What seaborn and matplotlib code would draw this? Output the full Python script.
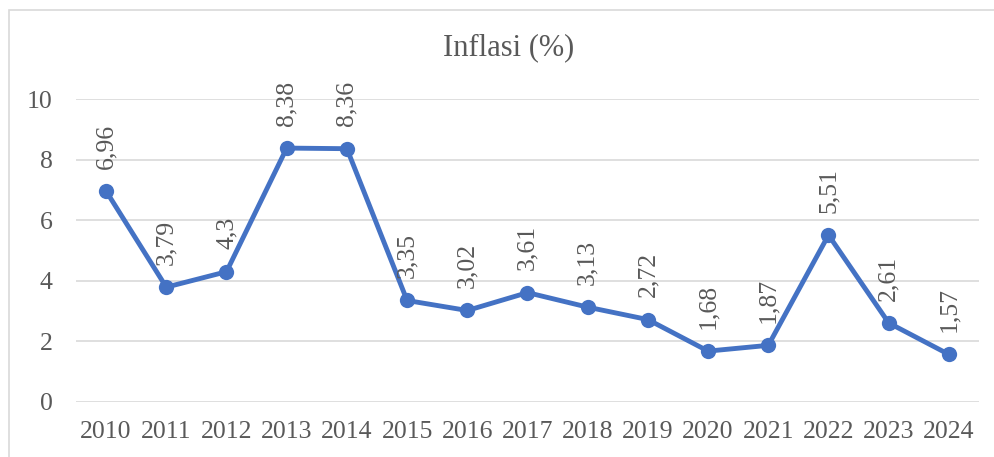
import matplotlib
matplotlib.use("Agg")
import matplotlib.pyplot as plt
import seaborn as sns
import pandas as pd
from matplotlib.patches import Rectangle

years = ["2010", "2011", "2012", "2013", "2014", "2015", "2016", "2017",
         "2018", "2019", "2020", "2021", "2022", "2023", "2024"]
inflasi = [6.96, 3.79, 4.3, 8.38, 8.36, 3.35, 3.02, 3.61, 3.13, 2.72,
           1.68, 1.87, 5.51, 2.61, 1.57]
labels = ["6,96", "3,79", "4,3", "8,38", "8,36", "3,35", "3,02", "3,61",
          "3,13", "2,72", "1,68", "1,87", "5,51", "2,61", "1,57"]
yticks = [0, 2, 4, 6, 8, 10]

sns.set_theme(style="white")
plt.rcParams['font.family'] = ['Liberation Serif', 'DejaVu Serif']

df = pd.DataFrame({"Tahun": years, "Inflasi": inflasi})

fig = plt.figure(figsize=(9.95, 4.57), dpi=100)
ax = fig.add_axes([76/995, 1 - 402/457, (979-76)/995, (402-99)/457])

line_color = "#4472C4"
text_color = "#595959"

sns.lineplot(data=df, x="Tahun", y="Inflasi", ax=ax, color=line_color,
             linewidth=3.5, marker="o", markersize=11, markeredgewidth=0,
             sort=False)

ax.set_xlim(-0.5, len(years) - 0.5)
ax.set_ylim(0, 10)
ax.set_yticks(yticks)
ax.set_yticklabels([str(t) for t in yticks])
ax.yaxis.grid(True, color="#d9d9d9", linewidth=1.2)
ax.set_axisbelow(True)
for s in ax.spines.values():
    s.set_visible(False)
ax.tick_params(axis="y", length=0, pad=17, labelsize=18.5, labelcolor=text_color)
ax.tick_params(axis="x", length=0, pad=14, labelsize=18.5, labelcolor=text_color)
ax.set_xlabel("")
ax.set_ylabel("")

for i, (v, lab) in enumerate(zip(inflasi, labels)):
    ax.annotate(lab, xy=(i, v), xytext=(0, 16), textcoords="offset points",
                rotation=90, ha="center", va="bottom", fontsize=18.5,
                color=text_color)

fig.text(509/995, 1 - 48/457, "Inflasi (%)", ha="center", va="center",
         fontsize=22, color=text_color)

frame = Rectangle((8.5/995, -0.1), 1.2, 1 - 9.5/457 + 0.1,
                  transform=fig.transFigure, fill=False,
                  edgecolor="#d9d9d9", linewidth=1.2, clip_on=False)
fig.patches.append(frame)

fig.savefig("out.png", dpi=100)
